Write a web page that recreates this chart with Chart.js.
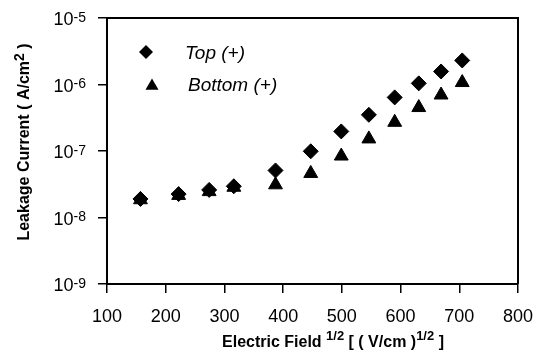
<!DOCTYPE html>
<html>
<head>
<meta charset="utf-8">
<script src="https://cdn.jsdelivr.net/npm/chart.js@4.4.1/dist/chart.umd.min.js"></script>
<style>
html, body { margin: 0; padding: 0; background: #fff; }
#wrap { width: 538px; height: 356px; position: relative; }
</style>
</head>
<body>
<div id="wrap"><canvas id="leakChart"></canvas></div>
<script>
// data
const field = [157, 222, 274, 316, 387, 447, 499, 546, 590, 631, 669, 705];
const topCurrent = [1.9e-8, 2.25e-8, 2.6e-8, 2.95e-8, 5.1e-8, 9.9e-8, 1.97e-7, 3.5e-7, 6.4e-7, 1.04e-6, 1.57e-6, 2.3e-6];
const bottomCurrent = [1.85e-8, 2.15e-8, 2.45e-8, 2.85e-8, 3.1e-8, 4.6e-8, 8.4e-8, 1.52e-7, 2.7e-7, 4.5e-7, 6.95e-7, 1.07e-6];
const seriesNames = ["Top (+)", "Bottom (+)"];
const xTicks = [100, 200, 300, 400, 500, 600, 700, 800];
const yExponents = [-9, -8, -7, -6, -5];

const FONT = '"Liberation Sans", Arial, sans-serif';
const NARROW = '"Liberation Sans Narrow", "Arial Narrow", "Liberation Sans", Arial, sans-serif';

function toPoints(xs, ys) {
    return xs.map(function (x, i) { return { x: x, y: ys[i] }; });
}

// draw a line of text made of runs (for superscripts)
function drawRuns(ctx, runs, x, y, align) {
    var total = 0;
    runs.forEach(function (r) {
        ctx.font = r.f;
        r.w = ctx.measureText(r.t).width;
        total += r.w;
    });
    var cx = x;
    if (align === "center") cx = x - total / 2;
    if (align === "right") cx = x - total;
    ctx.textAlign = "left";
    runs.forEach(function (r) {
        ctx.font = r.f;
        ctx.fillText(r.t, cx, y - (r.rise || 0));
        cx += r.w;
    });
}

function diamond(ctx, x, y, r) {
    ctx.beginPath();
    ctx.moveTo(x - r, y);
    ctx.lineTo(x, y - r);
    ctx.lineTo(x + r, y);
    ctx.lineTo(x, y + r);
    ctx.closePath();
    ctx.fill();
}

function triangle(ctx, x, y, r) {
    var h = r * Math.sqrt(3) / 2;
    ctx.beginPath();
    ctx.moveTo(x, y - r);
    ctx.lineTo(x + h, y + r / 2);
    ctx.lineTo(x - h, y + r / 2);
    ctx.closePath();
    ctx.fill();
}

const extrasPlugin = {
    id: "extras",
    afterDraw: function (chart) {
        var ctx = chart.ctx;
        var a = chart.chartArea;
        var ys = chart.scales.y;
        ctx.save();
        ctx.strokeStyle = "#000";
        ctx.fillStyle = "#000";
        ctx.lineWidth = 2;
        ctx.beginPath();
        ctx.moveTo(a.left, a.top);
        ctx.lineTo(a.right, a.top);
        ctx.lineTo(a.right, a.bottom);
        ctx.stroke();

        ctx.textBaseline = "alphabetic";
        yExponents.forEach(function (e) {
            var py = ys.getPixelForValue(Math.pow(10, e));
            drawRuns(ctx, [
                { t: "10", f: "18px " + FONT },
                { t: String(e), f: "14px " + FONT, rise: 3.5 }
            ], 86, py + 7, "right");
        });

        // legend
        diamond(ctx, 146, 52, 7);
        triangle(ctx, 152, 86, 7.5);
        ctx.font = "italic 19px " + FONT;
        ctx.fillText(seriesNames[0], 185, 58.5);
        ctx.fillText(seriesNames[1], 188, 91);

        // x title
        drawRuns(ctx, [
            { t: "Electric Field ", f: "bold 16px " + NARROW },
            { t: "1/2", f: "bold 13px " + NARROW, rise: 7 },
            { t: " [ ( V/cm )", f: "bold 16px " + NARROW },
            { t: "1/2", f: "bold 13px " + NARROW, rise: 7 },
            { t: " ]", f: "bold 16px " + NARROW }
        ], 333, 346.5, "center");

        // y title
        ctx.translate(29, 142);
        ctx.rotate(-Math.PI / 2);
        drawRuns(ctx, [
            { t: "Leakage Current ( A/cm", f: "bold 16px " + NARROW },
            { t: "2", f: "bold 14px " + NARROW, rise: 5 },
            { t: " )", f: "bold 16px " + NARROW }
        ], 0, 0, "center");
        ctx.restore();
    }
};

const CHART = document.getElementById("leakChart");

let leakChart = new Chart(CHART, {
    type: "scatter",
    data: {
        datasets: [{
            label: seriesNames[0],
            data: toPoints(field, topCurrent),
            pointStyle: "rectRot",
            pointRadius: 7.5,
            borderWidth: 1,
            borderColor: "#000",
            backgroundColor: "#000"
        }, {
            label: seriesNames[1],
            data: toPoints(field, bottomCurrent),
            pointStyle: "triangle",
            pointRadius: 8,
            borderWidth: 1,
            borderColor: "#000",
            backgroundColor: "#000"
        }]
    },
    options: {
        responsive: true,
        maintainAspectRatio: false,
        animation: false,
        devicePixelRatio: 1,
        layout: { padding: { top: 18, right: 20, left: 0, bottom: 0 } },
        plugins: {
            legend: { display: false },
            tooltip: { enabled: false }
        },
        scales: {
            x: {
                type: "linear",
                min: 100,
                max: 800,
                afterBuildTicks: function (scale) {
                    scale.ticks = xTicks.map(function (v) { return { value: v }; });
                },
                afterFit: function (scale) {
                    scale.height = 72;
                    scale.paddingLeft = 0;
                    scale.paddingRight = 0;
                },
                ticks: {
                    color: "#000",
                    padding: 13,
                    font: { family: FONT, size: 18 }
                },
                grid: {
                    drawOnChartArea: false,
                    color: "#000",
                    lineWidth: 1.5,
                    tickLength: 9
                },
                border: { color: "#000", width: 2 }
            },
            y: {
                type: "logarithmic",
                min: 1e-9,
                max: 1e-5,
                afterBuildTicks: function (scale) {
                    scale.ticks = yExponents.map(function (e) { return { value: Math.pow(10, e) }; });
                },
                afterFit: function (scale) {
                    scale.width = 107;
                    scale.paddingTop = 0;
                    scale.paddingBottom = 0;
                },
                ticks: { display: false },
                grid: {
                    drawOnChartArea: false,
                    color: "#000",
                    lineWidth: 1.5,
                    tickLength: 9
                },
                border: { color: "#000", width: 2 }
            }
        }
    },
    plugins: [extrasPlugin]
});
</script>
</body>
</html>
